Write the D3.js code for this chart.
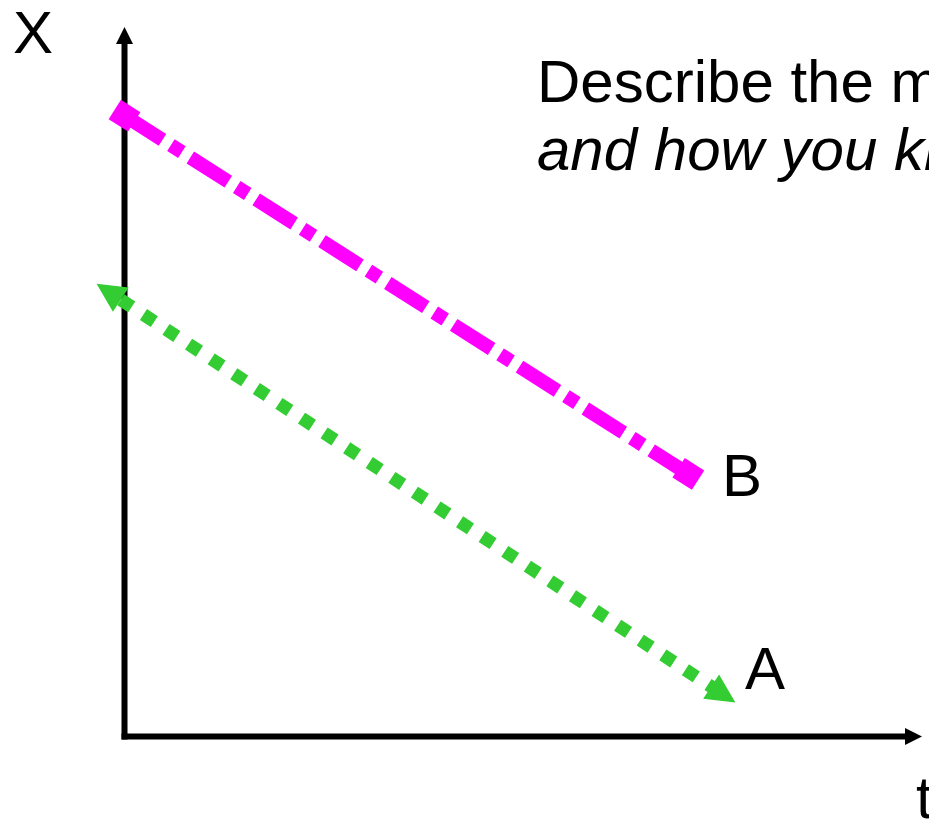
<!DOCTYPE html>
<html>
<head>
<meta charset="utf-8">
<script src="https://cdn.jsdelivr.net/npm/d3@7"></script>
<style>
  html, body { margin: 0; padding: 0; background: #fff; overflow: hidden; }
  svg { display: block; }
  text { font-family: "Liberation Sans", Arial, sans-serif; fill: #000; }
</style>
</head>
<body>
<svg id="chart" width="929" height="824"></svg>
<script>
// ---- data (t = time, x = position, arbitrary units) ----
const seriesNames = ["B", "A"];
const seriesB_t = [0.0, 7.07];
const seriesB_x = [8.75, 3.70];
const seriesA_t = [-0.35, 7.66];
const seriesA_x = [6.38, 0.48];
const axisLabels = ["t", "X"];
const promptLines = ["Describe the motion of each object", "and how you know."];

// ---- layout ----
const W = 929, H = 824;
const svg = d3.select("#chart");
const tScale = d3.scaleLinear().domain([0, 10]).range([124.5, 922]);
const xScale = d3.scaleLinear().domain([0, 10]).range([736.5, 27]);

// axes
const ax = svg.append("g");
const x0 = tScale(0), y0 = xScale(0);
const arrowL = 17, arrowW = 17;
ax.append("line").attr("x1", x0).attr("y1", y0 + 3).attr("x2", x0).attr("y2", xScale(10) + arrowL - 1)
  .attr("stroke", "#000").attr("stroke-width", 6);
ax.append("path").attr("d", d3.line()([[x0, xScale(10)], [x0 - arrowW / 2, xScale(10) + arrowL], [x0 + arrowW / 2, xScale(10) + arrowL]]) + "Z")
  .attr("fill", "#000");
ax.append("line").attr("x1", x0 - 3).attr("y1", y0).attr("x2", tScale(10) - arrowL + 1).attr("y2", y0)
  .attr("stroke", "#000").attr("stroke-width", 6);
ax.append("path").attr("d", d3.line()([[tScale(10), y0], [tScale(10) - arrowL, y0 - arrowW / 2], [tScale(10) - arrowL, y0 + arrowW / 2]]) + "Z")
  .attr("fill", "#000");

ax.append("text").attr("x", 13).attr("y", 53).attr("font-size", 60).text(axisLabels[1]);
ax.append("text").attr("x", 916).attr("y", 818).attr("font-size", 60).text(axisLabels[0]);

// helpers
function unit(p, q) {
  const dx = q[0] - p[0], dy = q[1] - p[1];
  const L = Math.hypot(dx, dy);
  return [dx / L, dy / L, L];
}

// ---- series B: magenta dash-dot with square ends ----
const magenta = "#FF00FF";
const bPts = seriesB_t.map((t, i) => [tScale(t), xScale(seriesB_x[i])]);
svg.append("path").attr("d", d3.line()(bPts))
  .attr("fill", "none").attr("stroke", magenta).attr("stroke-width", 14)
  .attr("stroke-dasharray", "45,10,13,10");
{
  const [ux, uy] = unit(bPts[0], bPts[1]);
  const ang = Math.atan2(uy, ux) * 180 / Math.PI;
  bPts.forEach(p => {
    svg.append("rect").attr("x", -11.5).attr("y", -11.5).attr("width", 23).attr("height", 23)
      .attr("fill", magenta)
      .attr("transform", `translate(${p[0]},${p[1]}) rotate(${ang})`);
  });
}
svg.append("text").attr("x", 722).attr("y", 496).attr("font-size", 60).text(seriesNames[0]);

// ---- series A: green dotted with triangle arrows ----
const green = "#33CC33";
const aPts = seriesA_t.map((t, i) => [tScale(t), xScale(seriesA_x[i])]);
{
  const [ux, uy, L] = unit(aPts[0], aPts[1]);
  const aLen = 29, aWid = 29;
  const s = [aPts[0][0] + ux * (aLen - 2), aPts[0][1] + uy * (aLen - 2)];
  const e = [aPts[1][0] - ux * (aLen - 2), aPts[1][1] - uy * (aLen - 2)];
  svg.append("path").attr("d", d3.line()([s, e]))
    .attr("fill", "none").attr("stroke", green).attr("stroke-width", 13)
    .attr("stroke-dasharray", "13,14").attr("stroke-dashoffset", 25);
  const px = -uy, py = ux;
  const tri = (tip, dir) => {
    const bx = tip[0] + dir * ux * aLen, by = tip[1] + dir * uy * aLen;
    return d3.line()([tip, [bx + px * aWid / 2, by + py * aWid / 2], [bx - px * aWid / 2, by - py * aWid / 2]]) + "Z";
  };
  svg.append("path").attr("d", tri(aPts[0], 1)).attr("fill", green);
  svg.append("path").attr("d", tri(aPts[1], -1)).attr("fill", green);
}
svg.append("text").attr("x", 745).attr("y", 689).attr("font-size", 60).text(seriesNames[1]);

// ---- prompt text ----
svg.append("text").attr("x", 537).attr("y", 102).attr("font-size", 60).text(promptLines[0]);
svg.append("text").attr("x", 537).attr("y", 170).attr("font-size", 60).attr("font-style", "italic").text(promptLines[1]);
</script>
</body>
</html>
